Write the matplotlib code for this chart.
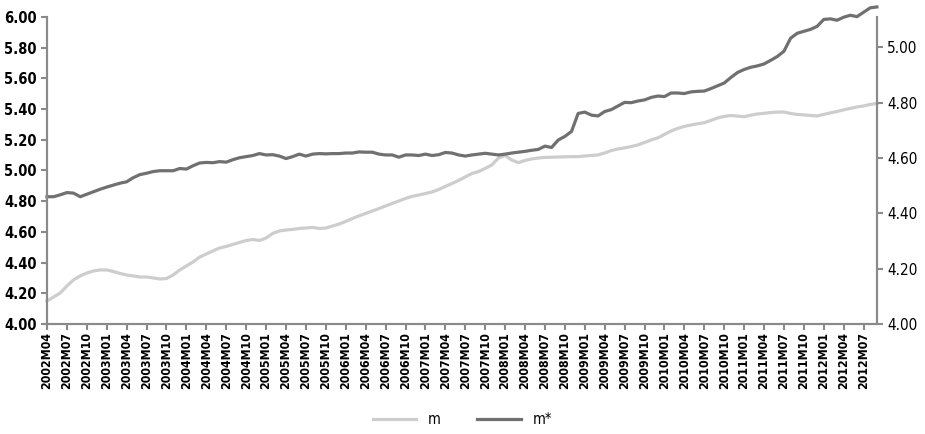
import numpy as np
import matplotlib.pyplot as plt

# Meses 2002M04 .. 2012M09
bulan = []
for th in range(2002, 2013):
    for bl in range(1, 13):
        if (th == 2002 and bl < 4) or (th == 2012 and bl > 9):
            continue
        bulan.append(f'{th}M{bl:02d}')

# m (sumbu kiri)
m = [4.150, 4.176, 4.202, 4.248, 4.287, 4.313, 4.332, 4.345, 4.352, 4.352,
     4.342, 4.329, 4.319, 4.313, 4.306, 4.306, 4.300, 4.293, 4.296, 4.319,
     4.352, 4.378, 4.404, 4.436, 4.456, 4.476, 4.495, 4.505, 4.518, 4.531,
     4.544, 4.550, 4.544, 4.560, 4.590, 4.606, 4.612, 4.616, 4.622, 4.625,
     4.629, 4.622, 4.625, 4.638, 4.651, 4.668, 4.687, 4.704, 4.720, 4.736,
     4.752, 4.769, 4.785, 4.801, 4.818, 4.831, 4.840, 4.850, 4.860, 4.876,
     4.896, 4.915, 4.935, 4.958, 4.980, 4.993, 5.013, 5.036, 5.081, 5.098,
     5.068, 5.051, 5.065, 5.075, 5.081, 5.085, 5.086, 5.088, 5.089, 5.090,
     5.090, 5.094, 5.098, 5.101, 5.114, 5.130, 5.140, 5.147, 5.156, 5.166,
     5.182, 5.199, 5.212, 5.235, 5.257, 5.274, 5.287, 5.296, 5.304, 5.311,
     5.326, 5.342, 5.352, 5.358, 5.354, 5.350, 5.360, 5.368, 5.372, 5.377,
     5.380, 5.381, 5.371, 5.365, 5.362, 5.358, 5.355, 5.365, 5.375, 5.384,
     5.395, 5.404, 5.414, 5.420, 5.430, 5.436]

# m* (sumbu kanan)
m_star = [4.460, 4.460, 4.467, 4.475, 4.473, 4.460, 4.469, 4.478, 4.487, 4.495,
          4.502, 4.509, 4.514, 4.529, 4.540, 4.545, 4.551, 4.554, 4.554, 4.554,
          4.562, 4.560, 4.572, 4.582, 4.584, 4.583, 4.587, 4.585, 4.594, 4.601,
          4.605, 4.609, 4.616, 4.611, 4.612, 4.607, 4.598, 4.605, 4.614, 4.607,
          4.614, 4.616, 4.615, 4.616, 4.616, 4.618, 4.618, 4.622, 4.621, 4.621,
          4.614, 4.611, 4.611, 4.603, 4.611, 4.611, 4.609, 4.614, 4.609, 4.612,
          4.620, 4.618, 4.611, 4.607, 4.611, 4.614, 4.617, 4.614, 4.611, 4.614,
          4.618, 4.621, 4.624, 4.628, 4.631, 4.643, 4.638, 4.665, 4.678, 4.696,
          4.761, 4.766, 4.755, 4.752, 4.768, 4.775, 4.788, 4.801, 4.800, 4.806,
          4.810, 4.819, 4.824, 4.822, 4.835, 4.835, 4.833, 4.839, 4.841, 4.842,
          4.851, 4.861, 4.871, 4.891, 4.909, 4.920, 4.928, 4.933, 4.940, 4.953,
          4.967, 4.986, 5.033, 5.051, 5.058, 5.065, 5.076, 5.101, 5.103, 5.098,
          5.109, 5.116, 5.111, 5.127, 5.143, 5.146]

kiri_ticks = np.arange(4.0, 6.01, 0.2)
kanan_ticks = np.arange(4.0, 5.01, 0.2)

plt.rcParams['font.family'] = ['DejaVu Sans']
plt.rcParams['font.stretch'] = 'condensed'

x = np.arange(len(bulan))
warna_sumbu = '#8a8a8a'

fig = plt.figure(figsize=(9.25, 4.34), dpi=100)
ax = fig.add_axes([0.0508, 0.2535, 0.8972, 0.7075])
ax2 = ax.twinx()

g1, = ax.plot(x, m, color='#cdcdcd', lw=2.3, label='m', clip_on=False)
g2, = ax2.plot(x, m_star, color='#707070', lw=2.3, label='m*', clip_on=False)

ax.set_xlim(0, len(bulan) - 1)
ax.set_ylim(4.0, 6.0)
ax2.set_ylim(4.0, 5.11)
ax.set_yticks(kiri_ticks)
ax.set_yticklabels([f'{v:.2f}' for v in kiri_ticks], fontsize=10.5, fontweight='bold')
ax2.set_yticks(kanan_ticks)
ax2.set_yticklabels([f'{v:.2f}' for v in kanan_ticks], fontsize=11)

ax.set_xticks(x[::3])
ax.set_xticklabels(bulan[::3], rotation=90, fontsize=8.8, fontweight='bold')

for a in (ax, ax2):
    a.spines['top'].set_visible(False)
    for s in ('left', 'right', 'bottom'):
        a.spines[s].set_color(warna_sumbu)
        a.spines[s].set_linewidth(1.5)
    a.tick_params(colors=warna_sumbu, labelcolor='black', width=1.5, length=4)
ax.tick_params(axis='x', pad=2)

fig.legend(handles=[g1, g2], loc='lower center', ncol=2, frameon=False,
           bbox_to_anchor=(0.5, -0.015), fontsize=10.5, handlelength=3, columnspacing=2.5)

fig.savefig('out.png', dpi=100)
